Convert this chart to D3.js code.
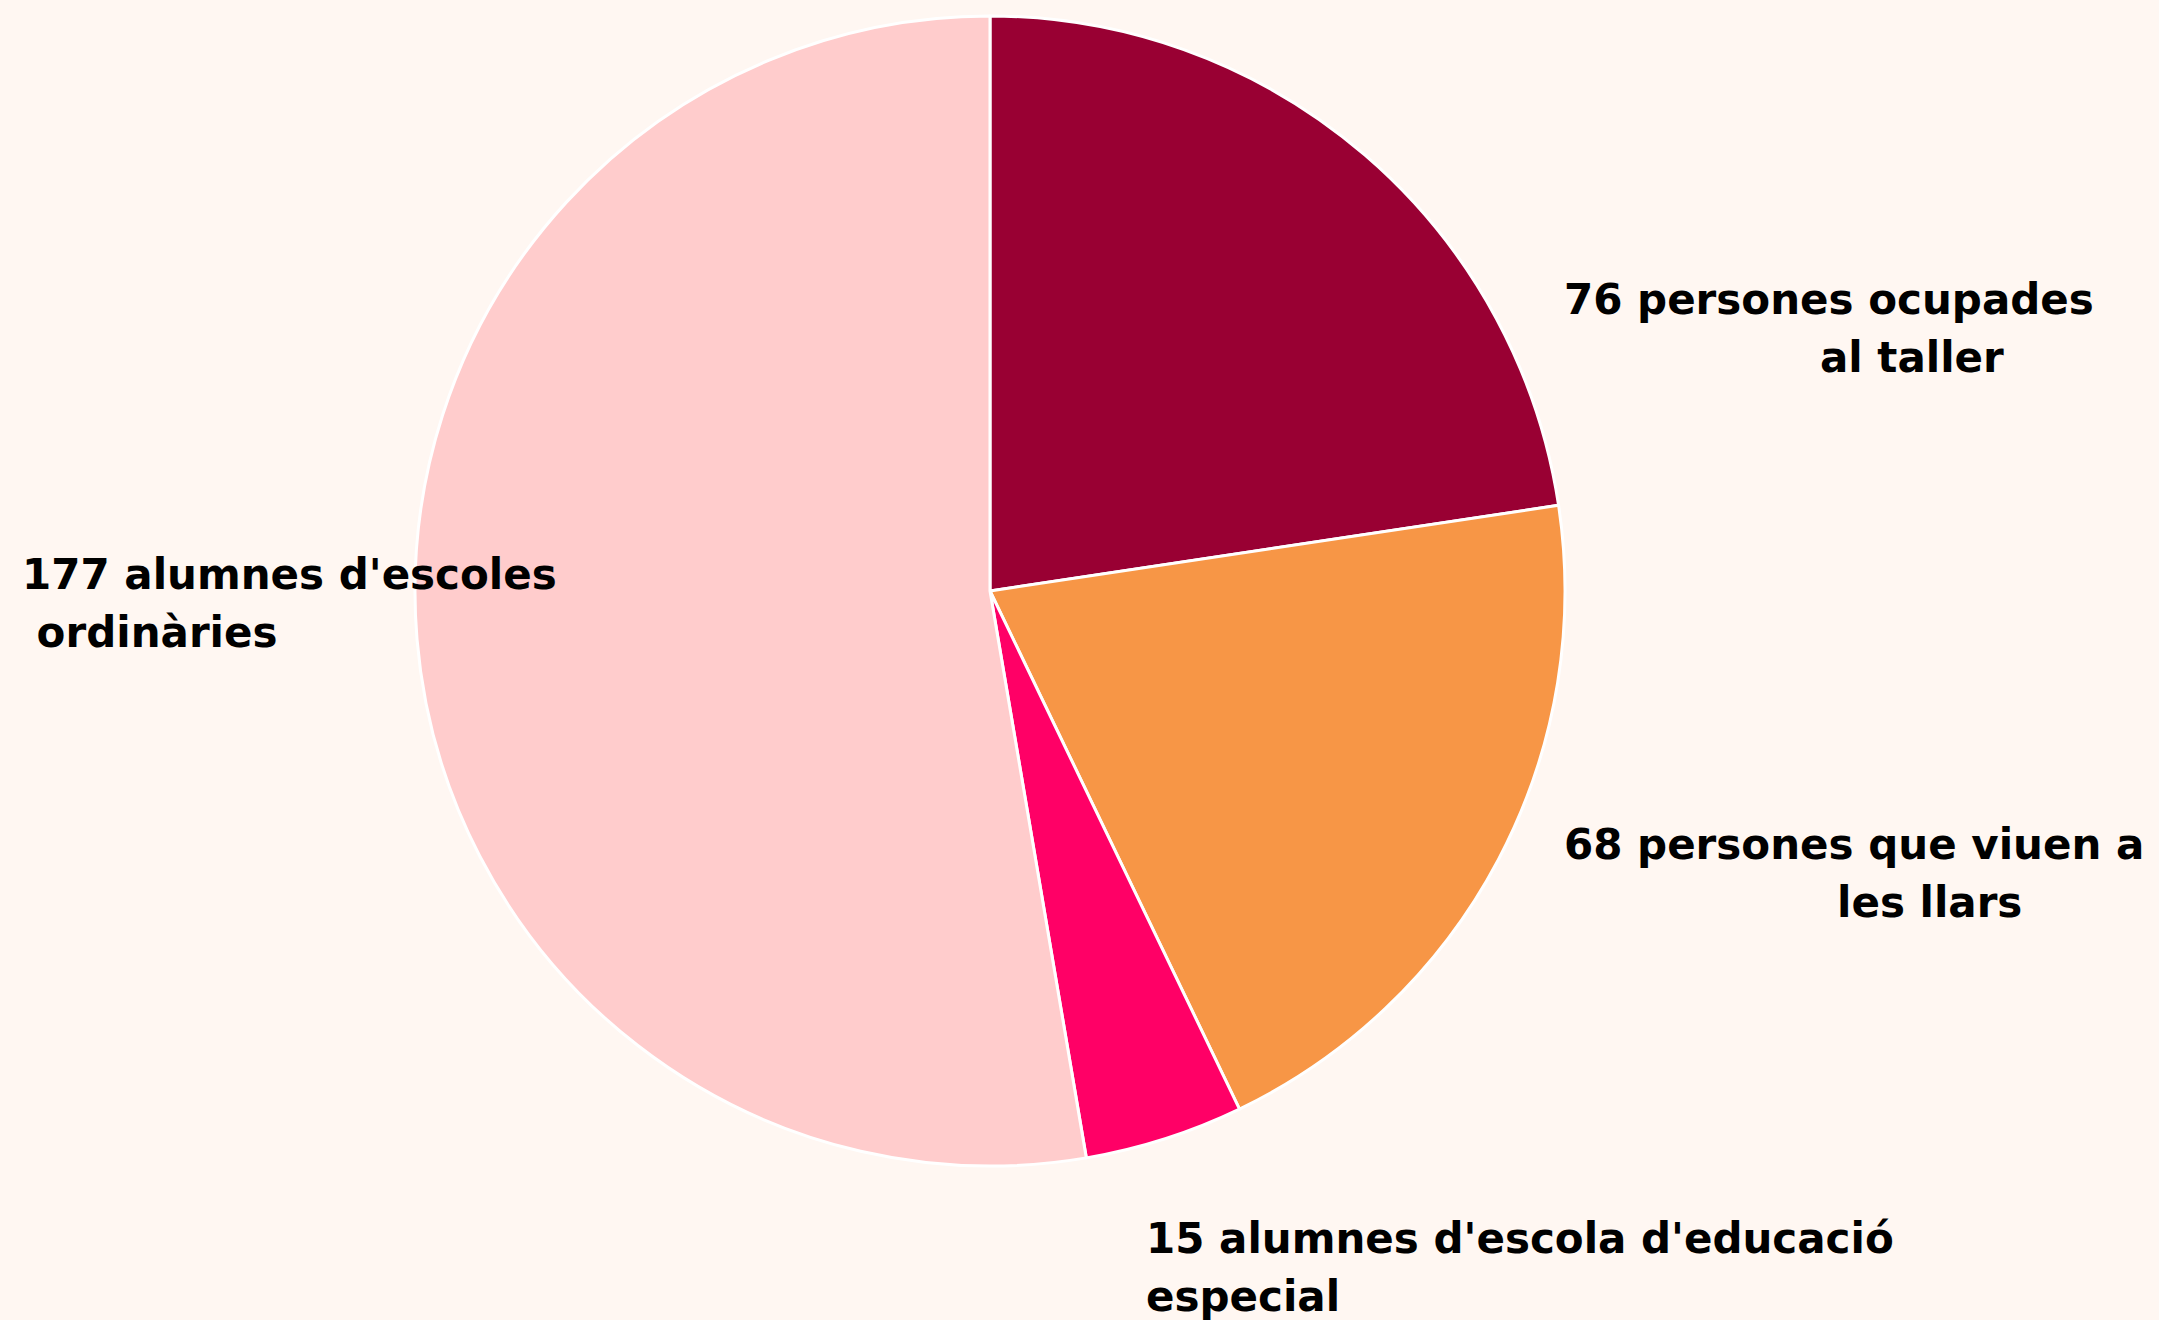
<!DOCTYPE html>
<html>
<head>
<meta charset="utf-8">
<script src="https://cdn.jsdelivr.net/npm/d3@7"></script>
<style>
  html, body { margin: 0; padding: 0; background: #FFF7F2; }
  svg { display: block; }
</style>
</head>
<body>
<script>
// ---- data ----
const categories = [
  "persones ocupades al taller",
  "persones que viuen a les llars",
  "alumnes d'escola d'educació especial",
  "alumnes d'escoles ordinàries"
];
const values = [76, 68, 15, 177];
const labelLines = [
  ["76 persones ocupades", "al taller"],
  ["68 persones que viuen a", "les llars"],
  ["15 alumnes d'escola d'educació", "especial"],
  ["177 alumnes d'escoles", " ordinàries"]
];
const colors = ["#990033", "#F79646", "#FF0066", "#FFCCCC"];

// ---- layout (offsets of each label line from the pie centre) ----
const W = 2159, H = 1320;
const cx = 990, cy = 591, R = 575;
const labelOffsets = [
  [[574, -277], [830, -219]],
  [[574, 268], [847, 326]],
  [[156, 662], [156, 720]],
  [[-968, -2], [-968, 56]]
];

const svg = d3.select("body").append("svg").attr("width", W).attr("height", H);
svg.append("rect").attr("width", W).attr("height", H).attr("fill", "#FFF7F2");

const pie = d3.pie().value(d => d).sort(null);
const arc = d3.arc().innerRadius(0).outerRadius(R);
const color = d3.scaleOrdinal().domain(d3.range(values.length)).range(colors);

const g = svg.append("g").attr("transform", `translate(${cx},${cy})`);
g.selectAll("path")
  .data(pie(values))
  .join("path")
  .attr("d", arc)
  .attr("fill", (d, i) => color(i))
  .attr("stroke", "#FFFFFF")
  .attr("stroke-width", 3)
  .attr("stroke-linejoin", "round");

const lg = g.selectAll("text.lbl")
  .data(labelLines)
  .join("text")
  .attr("class", "lbl")
  .attr("font-family", "'DejaVu Sans', sans-serif")
  .attr("font-weight", "bold")
  .attr("font-size", 42)
  .attr("fill", "#000")
  .style("white-space", "pre");

lg.each(function (lines, i) {
  d3.select(this).selectAll("tspan")
    .data(lines)
    .join("tspan")
    .attr("x", (d, j) => labelOffsets[i][j][0])
    .attr("y", (d, j) => labelOffsets[i][j][1])
    .text(d => d);
});
</script>
</body>
</html>
